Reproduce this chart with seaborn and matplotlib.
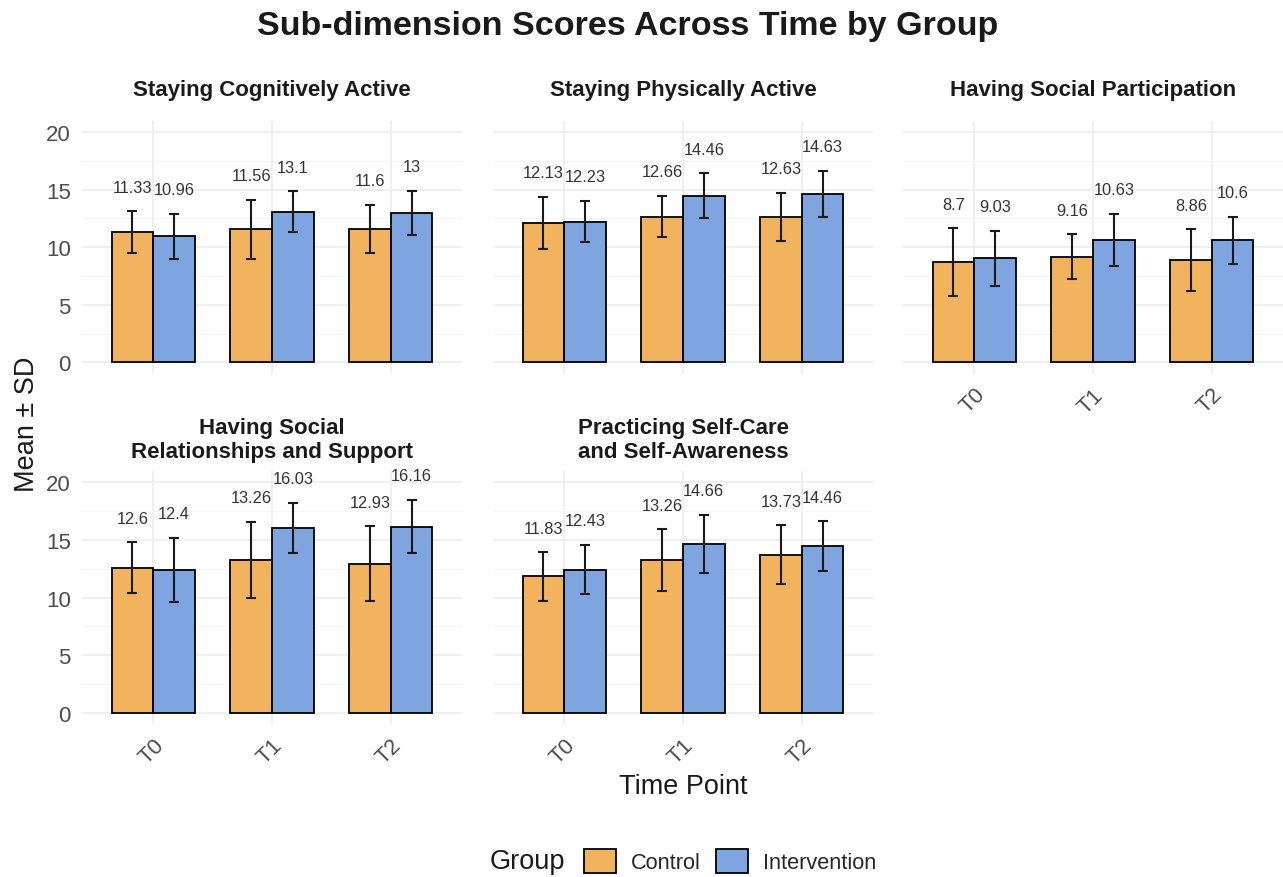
import pandas as pd
import seaborn as sns
import matplotlib.pyplot as plt
from matplotlib.patches import Patch

# Values.
dimensions = [
    "Staying Cognitively Active",
    "Staying Physically Active",
    "Having Social Participation",
    "Having Social\nRelationships and Support",
    "Practicing Self-Care\nand Self-Awareness",
]
time_points = ["T0", "T1", "T2"]
groups = ["Control", "Intervention"]

control_mean = [[11.33, 11.56, 11.6], [12.13, 12.66, 12.63], [8.7, 9.16, 8.86],
                [12.6, 13.26, 12.93], [11.83, 13.26, 13.73]]
control_sd = [[1.8, 2.55, 2.1], [2.25, 1.8, 2.1], [2.95, 1.95, 2.7],
              [2.2, 3.3, 3.25], [2.1, 2.65, 2.55]]
intervention_mean = [[10.96, 13.1, 13.0], [12.23, 14.46, 14.63], [9.03, 10.63, 10.6],
                     [12.4, 16.03, 16.16], [12.43, 14.66, 14.46]]
intervention_sd = [[1.95, 1.75, 1.9], [1.8, 1.95, 2.0], [2.4, 2.25, 2.05],
                   [2.8, 2.2, 2.3], [2.15, 2.5, 2.15]]

colors = {"Control": "#F2B35E", "Intervention": "#7FA5E1"}

# Long table for seaborn.
rows = []
for i, dim in enumerate(dimensions):
    for j, t in enumerate(time_points):
        rows.append((dim, t, "Control", control_mean[i][j], control_sd[i][j]))
        rows.append((dim, t, "Intervention", intervention_mean[i][j], intervention_sd[i][j]))
df = pd.DataFrame(rows, columns=["dimension", "time", "group", "mean", "sd"])

sns.set_style("white")
plt.rcParams["font.family"] = ["Liberation Sans", "DejaVu Sans"]

W, H = 1283, 878
fig = plt.figure(figsize=(W / 100, H / 100), dpi=100)

# panel placement in pixels (left, top); all panels same size
panel_w, panel_h = 380, 253.5
positions = [(82, 121.5), (493, 121.5), (903, 121.5), (82, 471.8), (493, 471.8)]

for i, dim in enumerate(dimensions):
    left, top = positions[i]
    ax = fig.add_axes([left / W, 1 - (top + panel_h) / H, panel_w / W, panel_h / H])
    sub = df[df["dimension"] == dim]
    sns.barplot(data=sub, x="time", y="mean", hue="group", order=time_points,
                hue_order=groups, palette=colors, saturation=1, width=0.7,
                edgecolor="black", linewidth=1.3, errorbar=None, legend=False,
                ax=ax, zorder=2)

    for container, g in zip(ax.containers, groups):
        gsub = sub[sub["group"] == g].set_index("time").loc[time_points]
        xs = [p.get_x() + p.get_width() / 2 for p in container]
        ax.errorbar(xs, gsub["mean"], yerr=gsub["sd"], fmt="none", ecolor="#1a1a1a",
                    elinewidth=1.5, capsize=3.4, capthick=1.5, zorder=3)
        for x, m, s in zip(xs, gsub["mean"], gsub["sd"]):
            ax.text(x, m + s + 1.7, f"{m:g}", ha="center", va="baseline",
                    fontsize=11.8, color="#333333")

    ax.set_xlim(-0.6, 2.6)
    ax.set_ylim(-1, 21)
    ax.set_yticks([0, 5, 10, 15, 20])
    ax.set_yticks([2.5, 7.5, 12.5, 17.5], minor=True)
    ax.set_axisbelow(True)
    ax.grid(which="major", color="#EBEBEB", linewidth=1.1)
    ax.grid(which="minor", axis="y", color="#F4F4F4", linewidth=0.7)
    ax.tick_params(which="both", length=0, labelsize=16, labelcolor="#4D4D4D")
    ax.tick_params(axis="y", pad=8)
    ax.tick_params(axis="x", pad=7)
    for s in ax.spines.values():
        s.set_visible(False)
    ax.set_xlabel("")
    ax.set_ylabel("")

    if i not in (0, 3):
        ax.set_yticklabels([])
    if i in (2, 3, 4):
        for lab in ax.get_xticklabels():
            lab.set_rotation(45)
            lab.set_ha("right")
            lab.set_rotation_mode("anchor")
    else:
        ax.set_xticklabels([])

    ax.annotate(dim, xy=(0.5, 1), xycoords="axes fraction", xytext=(0, 22.5),
                textcoords="offset points", ha="center", va="center",
                fontsize=16, fontweight="bold", linespacing=1.2, color="#1a1a1a")

fig.text(627.5 / W, 1 - 27 / H, "Sub-dimension Scores Across Time by Group",
         ha="center", va="center", fontsize=24.5, fontweight="bold", color="#1a1a1a")
fig.text(27 / W, 1 - 424 / H, "Mean ± SD", rotation=90, ha="center", va="center",
         fontsize=19.5, color="#1a1a1a")
fig.text(683 / W, 1 - 787 / H, "Time Point", ha="center", va="center",
         fontsize=19.5, color="#1a1a1a")

# legend at the bottom with the title inline
handles = [Patch(facecolor=colors[g], edgecolor="black", linewidth=1.3) for g in groups]
fig.legend(handles, groups, loc="center", bbox_to_anchor=(730 / W, 1 - 862 / H),
           ncol=2, frameon=False, fontsize=15.7, handlelength=1.47, handleheight=1.38,
           handletextpad=0.69, columnspacing=0.69)
fig.text(565 / W, 1 - 862 / H, "Group", ha="right", va="center", fontsize=19.5,
         color="#1a1a1a")

plt.savefig("out.png", dpi=100)
